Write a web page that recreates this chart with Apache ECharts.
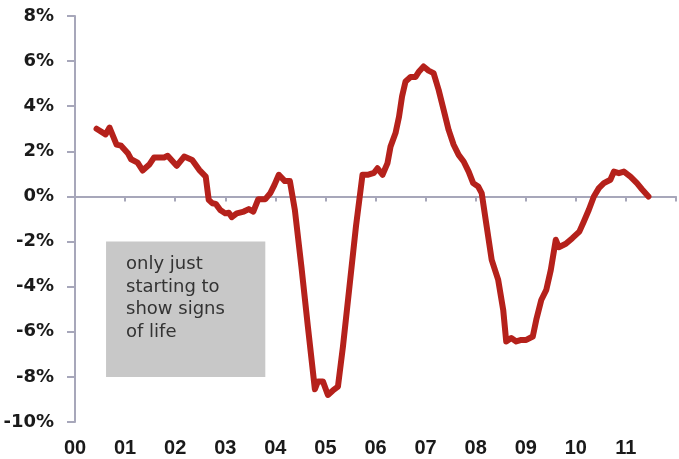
<!DOCTYPE html>
<html>
<head>
<meta charset="utf-8">
<script src="https://cdn.jsdelivr.net/npm/echarts@6/dist/echarts.min.js"></script>
<style>
  html, body { margin: 0; padding: 0; background: #fff; }
  #chart { width: 679px; height: 459px; }
</style>
</head>
<body>
<div id="chart"></div>
<script>
// decimal year since 2000 (x) and growth in % (y)
const years = [
  0.43, 0.61, 0.69, 0.83, 0.92, 1.06, 1.12, 1.25, 1.35, 1.49, 1.58, 1.78, 1.85,
  2.03, 2.18, 2.34, 2.48, 2.61, 2.67, 2.74, 2.81, 2.9, 3.0, 3.07, 3.13, 3.23,
  3.37, 3.47, 3.56, 3.66, 3.8, 3.9, 3.98, 4.07, 4.19, 4.29, 4.39, 4.52, 4.65,
  4.79, 4.85, 4.95, 5.05, 5.15, 5.25, 5.35, 5.48, 5.61, 5.74, 5.84, 5.97, 6.04,
  6.14, 6.24, 6.3, 6.4, 6.47, 6.53, 6.6, 6.7, 6.8, 6.87, 6.96, 7.06, 7.16,
  7.26, 7.36, 7.46, 7.56, 7.66, 7.76, 7.86, 7.95, 8.05, 8.12, 8.22, 8.32,
  8.45, 8.55, 8.61, 8.71, 8.81, 8.91, 9.01, 9.14, 9.21, 9.31, 9.41, 9.5, 9.6,
  9.66, 9.8, 9.93, 10.07, 10.16, 10.26, 10.36, 10.46, 10.56, 10.69, 10.76,
  10.86, 10.96, 11.09, 11.22, 11.32, 11.45
];
const growth = [
  3.0, 2.75, 3.05, 2.3, 2.25, 1.9, 1.65, 1.5, 1.15, 1.43, 1.73, 1.73, 1.8,
  1.36, 1.77, 1.62, 1.18, 0.88, -0.15, -0.3, -0.33, -0.6, -0.75, -0.72, -0.92, -0.75,
  -0.67, -0.56, -0.67, -0.12, -0.12, 0.15, 0.5, 0.96, 0.68, 0.68, -0.6, -3.1, -5.77,
  -8.55, -8.2, -8.2, -8.8, -8.6, -8.43, -6.66, -4.0, -1.33, 0.96, 0.96, 1.05, 1.25,
  0.96, 1.48, 2.21, 2.81, 3.54, 4.43, 5.1, 5.3, 5.3, 5.54, 5.76, 5.58, 5.47,
  4.73, 3.84, 2.95, 2.29, 1.84, 1.55, 1.1, 0.59, 0.44, 0.15, -1.33, -2.81,
  -3.7, -5.03, -6.43, -6.28, -6.43, -6.36, -6.36, -6.21, -5.47, -4.59, -4.14, -3.26, -1.92,
  -2.25, -2.1, -1.85, -1.56, -1.11, -0.59, 0, 0.37, 0.59, 0.74, 1.1,
  1.03, 1.1, 0.88, 0.59, 0.32, 0.0
];
const yearLabels = ['00', '01', '02', '03', '04', '05', '06', '07', '08', '09', '10', '11'];
const yTicks = [-10, -8, -6, -4, -2, 0, 2, 4, 6, 8];
// annotation box: [x0, y0] to [x1, y1] in data units
const noteBox = [[0.62, -2.0], [3.8, -8.0]];
const noteText = 'only just\nstarting to\nshow signs\nof life';

const axisColor = '#a7a7ba';
const chart = echarts.init(document.getElementById('chart'));

const option = {
  animation: false,
  grid: { left: 75, right: -4, top: 16, bottom: 37 },
  xAxis: [
    {
      type: 'value',
      min: 0,
      max: 12,
      interval: 1,
      axisLine: { onZero: true, lineStyle: { color: axisColor, width: 2 } },
      axisTick: { show: true, length: 5, lineStyle: { color: axisColor, width: 2 } },
      axisLabel: { show: false },
      splitLine: { show: false }
    },
    {
      type: 'value',
      position: 'bottom',
      min: 0,
      max: 12,
      interval: 1,
      axisLine: { show: false, onZero: false },
      axisTick: { show: false },
      axisLabel: {
        margin: 16,
        fontFamily: 'Liberation Sans',
        fontWeight: 'bold',
        fontSize: 20,
        color: '#1a1a1a',
        formatter: v => (v < yearLabels.length ? yearLabels[v] : '')
      },
      splitLine: { show: false }
    }
  ],
  yAxis: {
    type: 'value',
    min: yTicks[0],
    max: yTicks[yTicks.length - 1],
    interval: 2,
    axisLine: { show: true, onZero: false, lineStyle: { color: axisColor, width: 2 } },
    axisTick: { show: true, length: 8, lineStyle: { color: axisColor, width: 2 } },
    axisLabel: {
      margin: 21,
      fontFamily: 'DejaVu Sans',
      fontWeight: 'bold',
      fontSize: 18,
      color: '#1a1a1a',
      formatter: '{value}%'
    },
    splitLine: { show: false }
  },
  series: [
    {
      type: 'line',
      xAxisIndex: 0,
      showSymbol: false,
      data: years.map((x, i) => [x, growth[i]]),
      lineStyle: { color: '#b5211b', width: 6, cap: 'round', join: 'round' },
      z: 5,
      markArea: {
        silent: true,
        itemStyle: { color: '#c8c8c8' },
        label: {
          show: true,
          position: 'insideTopLeft',
          distance: 0,
          padding: [12, 0, 0, 20],
          fontFamily: 'DejaVu Sans',
          fontSize: 18,
          lineHeight: 22.5,
          color: '#333333',
          formatter: noteText
        },
        data: [[
          { coord: noteBox[0] },
          { coord: noteBox[1] }
        ]]
      }
    }
  ]
};

chart.setOption(option);
</script>
</body>
</html>
